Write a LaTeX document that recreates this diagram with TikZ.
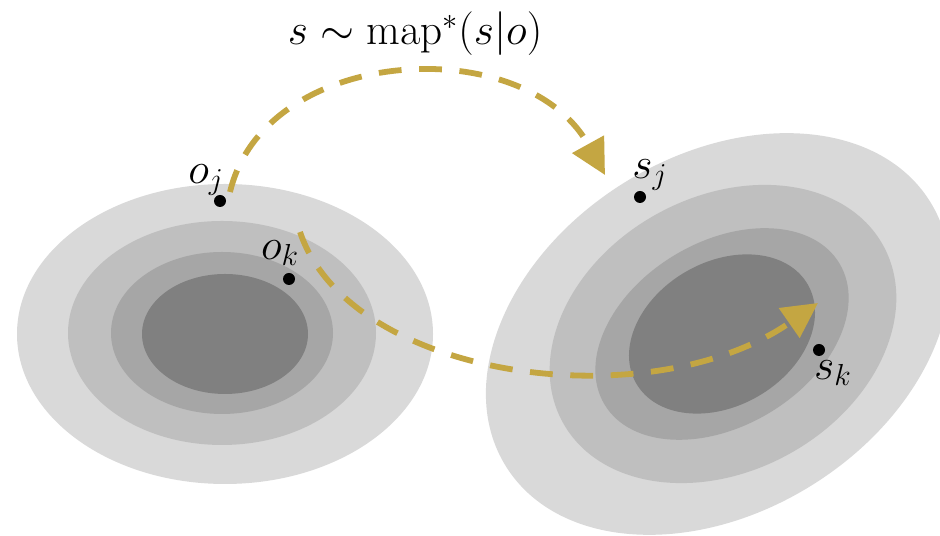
\documentclass[tikz,border=0pt]{standalone}
\usetikzlibrary{arrows.meta}

\definecolor{mapgold}{RGB}{196,166,66}
\definecolor{ringA}{RGB}{217,217,217}
\definecolor{ringB}{RGB}{191,191,191}
\definecolor{ringC}{RGB}{166,166,166}
\definecolor{ringD}{RGB}{128,128,128}

\tikzset{
  pt/.style={circle, fill=black, inner sep=0pt, minimum size=0.24cm},
  maparrow/.style={mapgold, line width=3.3pt, dash pattern=on 13pt off 10pt,
    -{Triangle[length=20pt, width=20pt]}},
}

\begin{document}
\begin{tikzpicture}[x=0.02cm, y=0.02cm, every node/.style={font=\fontsize{24}{29}\selectfont}]
  \useasboundingbox (0,0) rectangle (940,536);

  % observation cloud
  \fill[ringA] (225,202) ellipse [x radius=208, y radius=150];
  \fill[ringB] (222,203) ellipse [x radius=154, y radius=112];
  \fill[ringC] (222,203) ellipse [x radius=111, y radius=81];
  \fill[ringD] (225,202) ellipse [x radius=83, y radius=60];

  % state cloud
  \fill[ringA] (718,202) ellipse [x radius=250, y radius=178, rotate=32];
  \fill[ringB] (723,202) ellipse [x radius=183, y radius=137, rotate=29];
  \fill[ringC] (722,202) ellipse [x radius=137, y radius=92, rotate=31];
  \fill[ringD] (722,202) ellipse [x radius=99, y radius=72, rotate=30];

  % points
  \node[pt] (oj) at (220,335) {};
  \node[pt] (ok) at (289,257) {};
  \node[pt] (sj) at (640,339) {};
  \node[pt] (sk) at (819,186) {};

  \node (ojlabel) at (206,356) {$o_j$};
  \node (oklabel) at (280,283) {$o_k$};
  \node (sjlabel) at (650,361) {$s_j$};
  \node (sklabel) at (833,163) {$s_k$};

  \node (title) at (415,502) {$s \sim \mathrm{map}^*(s|o)$};

  % mapping arrows
  \coordinate (oj-out) at (230,344);
  \coordinate (sj-in) at (605,361);
  \coordinate (ok-out) at (300,304);
  \coordinate (sk-in) at (818,233);

  \draw[maparrow] (oj-out) .. controls (265,491) and (525,506) .. (sj-in);
  \draw[maparrow] (ok-out) .. controls (350,156) and (650,116) .. (sk-in);
\end{tikzpicture}
\end{document}
